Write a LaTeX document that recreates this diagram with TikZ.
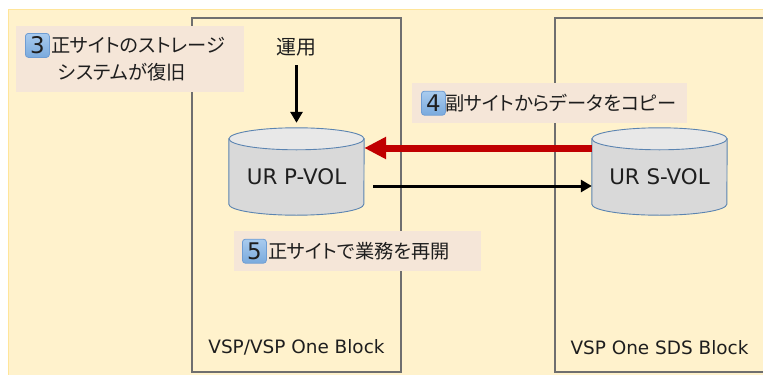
\documentclass[tikz,border=0pt]{standalone}
\usepackage{fontspec}
\setmainfont{DejaVu Sans}
\newfontfamily\jpfont[RawFeature=+palt]{Noto Sans CJK JP}
\usetikzlibrary{arrows.meta,positioning}

\definecolor{bgyellow}{HTML}{FFF2CC}
\definecolor{bgedge}{HTML}{FFE59A}
\definecolor{siteline}{HTML}{6F6F6F}
\definecolor{notefill}{HTML}{F5E6D8}
\definecolor{volline}{HTML}{5B84B1}
\definecolor{volbody}{HTML}{D9D9D9}
\definecolor{voltop}{HTML}{E8E8E8}
\definecolor{copyred}{HTML}{C00000}
\definecolor{badgetop}{HTML}{A9CBEE}
\definecolor{badgebottom}{HTML}{7AAADD}
\definecolor{badgeline}{HTML}{6F9DD3}
\definecolor{ink}{HTML}{1E1E1E}

\tikzset{
  sitebox/.style={draw=siteline, line width=1.3bp, minimum width=209bp, minimum height=354bp, inner sep=0pt},
  sitename/.style={font=\fontsize{18.5}{22}\selectfont, text=ink, inner sep=0pt},
  vol/.style={minimum width=135bp, minimum height=87bp, inner sep=0pt},
  volname/.style={font=\fontsize{21.5}{24}\selectfont, text=ink, inner sep=0pt},
  volshape/.style={draw=volline, line width=0.9bp},
  notebox/.style={fill=notefill, anchor=north west, inner xsep=9bp, inner ysep=0pt, align=left, font=\jpfont\fontsize{19.3}{27}\selectfont, text=ink},
  plaintext/.style={font=\jpfont\fontsize{20}{24}\selectfont, text=ink, inner sep=2bp},
  badge/.style={draw=badgeline, line width=0.8bp, rounded corners=3bp, top color=badgetop, bottom color=badgebottom, minimum width=24bp, minimum height=24bp, inner sep=0pt, font=\fontsize{23}{23}\selectfont, text=ink},
  ioflow/.style={line width=3bp, -{Triangle[length=11bp,width=12bp]}},
  copyflow/.style={copyred, line width=7bp, -{Triangle[length=22bp,width=21bp]}},
}

\begin{document}
\begin{tikzpicture}[x=1bp,y=1bp]
  \useasboundingbox (0,0) rectangle (763,374);
  \draw[bgedge, fill=bgyellow] (8,-2) rectangle (766,365);

  \node[sitebox] (psite) at (296.5,179) {};
  \node[sitebox] (ssite) at (659.5,179) {};
  \node[sitename] (pname) at ([yshift=25bp]psite.south) {VSP/VSP One Block};
  \node[sitename] (sname) at ([yshift=25bp]ssite.south) {VSP One SDS Block};

  \node[vol] (pvol) at (296.5,202.5) {};
  \node[vol] (svol) at (659.5,202.5) {};
  \foreach \v in {pvol,svol}{
    \filldraw[volshape, fill=volbody] ([yshift=-11bp]\v.north west) -- ([yshift=11bp]\v.south west)
      arc[start angle=180, end angle=360, x radius=67.5bp, y radius=11bp] -- ([yshift=-11bp]\v.north east) -- cycle;
    \filldraw[volshape, fill=voltop] ([yshift=-11bp]\v.north) ellipse[x radius=67.5bp, y radius=11bp];
  }
  \node[volname] (pvoltext) at ([yshift=-5.5bp]pvol.center) {UR P-VOL};
  \node[volname] (svoltext) at ([yshift=-5.5bp]svol.center) {UR S-VOL};

  \node[plaintext] (unyou) at (296.5,327) {運用};
  \draw[ioflow, shorten <=7bp, shorten >=5bp] (unyou) -- (pvol);
  \draw[copyflow] ([yshift=23.5bp]svol.west) -- ([yshift=23.5bp]pvol.east);
  \draw[ioflow, shorten <=9bp] ([yshift=-14.5bp]pvol.east) -- ([yshift=-14.5bp]svol.west);

  \node[notebox, text width=210bp, minimum height=66bp] (note3) at (16,348)
    {\hspace*{26bp}正サイトのストレージ\\\hspace*{33bp}システムが復旧};
  \node[badge, below right=7bp and 9bp of note3.north west] (num3) {3};
  \node[notebox, text width=257bp, minimum height=40bp] (note4) at (412,291)
    {\hspace*{24bp}副サイトからデータをコピー};
  \node[badge, right=9bp of note4.west] (num4) {4};
  \node[notebox, inner xsep=8bp, text width=231bp, minimum height=40bp] (note5) at (234,143)
    {\hspace*{26bp}正サイトで業務を再開};
  \node[badge, right=8bp of note5.west] (num5) {5};
\end{tikzpicture}
\end{document}
